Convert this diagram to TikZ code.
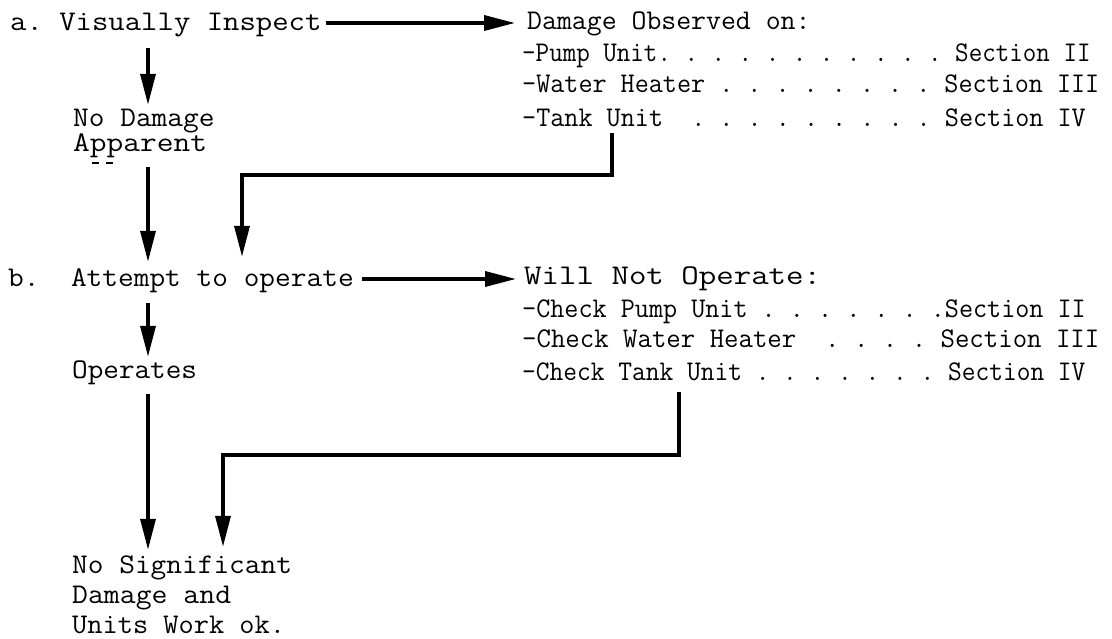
\documentclass[tikz,border=0pt]{standalone}
\usepackage{fontspec}
\usetikzlibrary{arrows.meta}
\frenchspacing
\begin{document}
\begin{tikzpicture}[x=1pt,y=-1pt,
  lbl/.style={anchor=base west, inner sep=0pt, text height=16pt, text depth=0pt,
              font=\ttfamily\fontsize{28.5}{30}\selectfont},
  conn/.style={line width=3.5pt, -{Triangle[length=31pt,width=15pt]}},
  specks/.style={line width=1.6pt}]
\useasboundingbox (0,0) rectangle (1112,639);

% ---- text rows ----
\node[lbl] (ra)   at (10,31)  {\scalebox{1.116}[1]{a. Visually Inspect}};
\node[lbl] (rd0)  at (527,30) {\scalebox{1.016}[1]{Damage Observed on:}};
\node[lbl] (rd1)  at (522,62) {\scalebox{0.922}[1]{-Pump Unit. . . . . . . . . . . Section II}};
\node[lbl] (rd2)  at (522,93) {\scalebox{0.959}[1]{-Water Heater . . . . . . . . Section III}};
\node[lbl] (rd3)  at (522,127){\scalebox{0.960}[1]{-Tank Unit~ . . . . . . . . . Section IV}};
\node[lbl] (rnd1) at (73,127) {\scalebox{1.070}[1]{No Damage}};
\node[lbl] (rnd2) at (73,152) {\scalebox{1.140}[1]{Apparent}};

\node[lbl] (rb)   at (8,287)  {\scalebox{1.070}[1]{b.~ Attempt to operate}};
\node[lbl] (rw0)  at (524,285){\scalebox{1.190}[1]{Will Not Operate:}};
\node[lbl] (rw1)  at (522,317){\scalebox{0.960}[1]{-Check Pump Unit . . . . . . .Section II}};
\node[lbl] (rw2)  at (522,348){\scalebox{0.983}[1]{-Check Water Heater~ . . . . Section III}};
\node[lbl] (rw3)  at (522,380){\scalebox{0.936}[1]{-Check Tank Unit . . . . . . . Section IV}};
\node[lbl] (rop)  at (72,378) {\scalebox{1.063}[1]{Operates}};

\node[lbl] (rn1)  at (72,573) {\scalebox{1.070}[1]{No Significant}};
\node[lbl] (rn2)  at (72,603) {\scalebox{1.083}[1]{Damage and}};
\node[lbl] (rn3)  at (72,633) {\scalebox{1.036}[1]{Units Work ok.}};

% small marks under "Apparent"
\draw[specks] (92,163) -- (99,163);
\draw[specks] (106,163) -- (113,163);

% ---- routing coordinates ----
\coordinate (colA) at (148,0);
\coordinate (t1) at (612,175);
\coordinate (t2) at (242,175);
\coordinate (u1) at (679,455);
\coordinate (u2) at (223,455);

% ---- connectors ----
\draw[conn, shorten <=17pt, shorten >=6pt] (ra.south -| colA) -- (rnd1.north -| colA);
\draw[conn, shorten <=4pt, shorten >=12pt] (ra.east) -- (ra.east -| rd0.west);
\draw[conn, shorten <=6pt, shorten >=14pt] (rd3.south -| t1) -- (t1) -- (t2) -- (t2 |- rb.north);
\draw[conn, shorten <=15pt, shorten >=9pt] (rnd2.south -| colA) -- (rb.north -| colA);
\draw[conn, shorten <=8pt, shorten >=8pt] (rb.east) -- (rb.east -| rw0.west);
\draw[conn, shorten <=16pt, shorten >=5pt] (rb.south -| colA) -- (rop.north -| colA);
\draw[conn, shorten <=16pt, shorten >=7pt] (rop.south -| colA) -- (rn1.north -| colA);
\draw[conn, shorten <=12pt, shorten >=10pt] (rw3.south -| u1) -- (u1) -- (u2) -- (u2 |- rn1.north);
\end{tikzpicture}
\end{document}
